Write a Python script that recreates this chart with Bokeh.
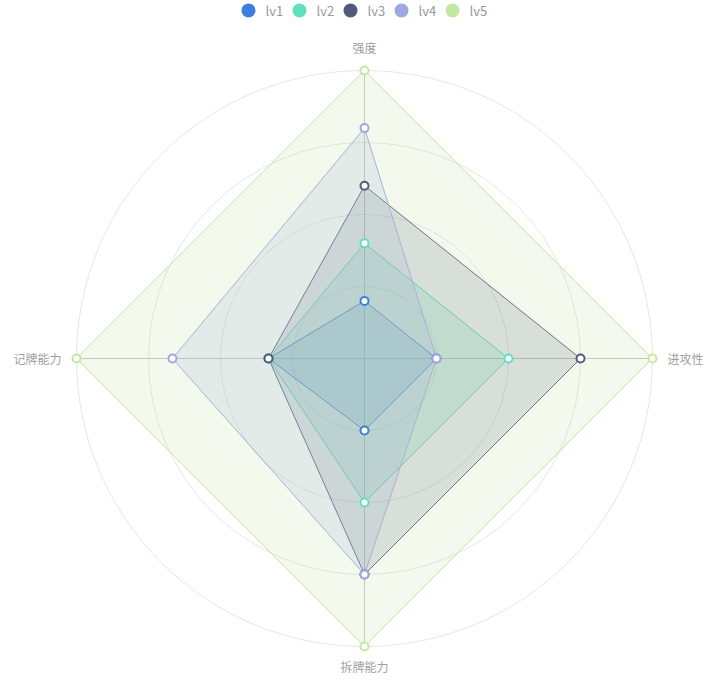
import math
from bokeh.plotting import figure
from bokeh.models import Range1d
from bokeh.core.properties import value
from bokeh.embed import file_html
from bokeh.resources import INLINE

# ---- data ----
indicators = ["强度", "记牌能力", "拆牌能力", "进攻性"]
maxes = [5, 3, 4, 4]
series_names = ["lv1", "lv2", "lv3", "lv4", "lv5"]
lv1 = [1, 1, 1, 1]
lv2 = [2, 1, 2, 2]
lv3 = [3, 1, 3, 3]
lv4 = [4, 2, 3, 1]
lv5 = [5, 3, 4, 4]
series_values = [lv1, lv2, lv3, lv4, lv5]
colors = ["#3b7fdc", "#5ee2bd", "#525a7c", "#9fa7e3", "#c2e8a4"]

W, H = 712, 680
FONT = "Noto Sans CJK SC"
p = figure(width=W, height=H, output_backend="svg", toolbar_location=None,
           x_range=Range1d(0, W), y_range=Range1d(0, H), min_border=0)
p.axis.visible = False
p.grid.visible = False
p.outline_line_color = None
p.background_fill_color = "white"

cx, cy, R = 364, H - 358, 288
n = len(indicators)
angles = [math.radians(90 + i * 360 / n) for i in range(n)]

# grid circles
split = 4
for k in range(1, split + 1):
    p.circle(x=[cx], y=[cy], radius=R * k / split, fill_color=None,
             line_color="#e6e6e6", line_width=1)

# axis lines
for a in angles:
    p.line([cx, cx + R * math.cos(a)], [cy, cy + R * math.sin(a)],
           line_color="#c4c4c4", line_width=1)

# polygons
for vals, col in zip(series_values, colors):
    xs = [cx + R * v / m * math.cos(a) for v, m, a in zip(vals, maxes, angles)]
    ys = [cy + R * v / m * math.sin(a) for v, m, a in zip(vals, maxes, angles)]
    p.patch(xs, ys, fill_color=col, fill_alpha=0.2, line_color=col, line_width=1)
for vals, col in zip(series_values, colors):
    xs = [cx + R * v / m * math.cos(a) for v, m, a in zip(vals, maxes, angles)]
    ys = [cy + R * v / m * math.sin(a) for v, m, a in zip(vals, maxes, angles)]
    p.scatter(xs, ys, size=8, fill_color="white", line_color=col, line_width=2)

# indicator labels
gaps = [15, 15, 11, 15]
for name, a, gap in zip(indicators, angles, gaps):
    c, s = round(math.cos(a), 6), round(math.sin(a), 6)
    x = cx + (R + gap) * c
    y = cy + (R + gap) * s
    align = "center" if c == 0 else ("left" if c > 0 else "right")
    base = "middle" if s == 0 else ("bottom" if s > 0 else "top")
    p.text([x], [y], text=[name], text_align=align, text_baseline=base,
           text_font=value(FONT), text_font_size="12px", text_color="#a0a0a0")

# legend
lx0, ly, step = 248, H - 10, 51
for i, (nm, col) in enumerate(zip(series_names, colors)):
    x = lx0 + i * step
    p.scatter([x], [ly], size=14, fill_color=col, line_color=None)
    p.text([x + 17], [ly], text=[nm], text_align="left", text_baseline="middle",
           text_font=value(FONT), text_font_size="13px", text_color="#999999")

open("out.html", "w").write(file_html(p, INLINE))
